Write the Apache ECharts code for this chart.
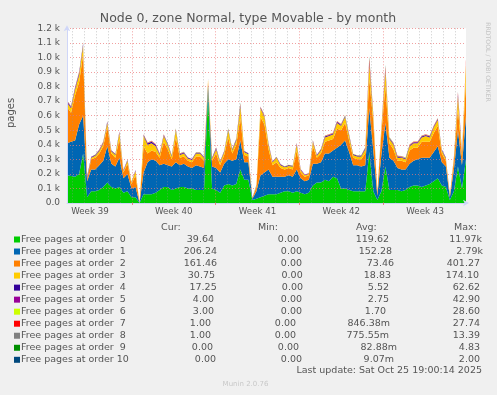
<!DOCTYPE html>
<html><head><meta charset="utf-8">
<script src="https://cdn.jsdelivr.net/npm/echarts@6/dist/echarts.min.js"></script>
<style>html,body{margin:0;padding:0;background:#f0f0f0}#c{width:497px;height:395px}</style>
</head><body><div id="c"></div>
<script>
// ---- data ----
const titleText = 'Node 0, zone Normal, type Movable - by month';
const weekLabels = ['Week 39', 'Week 40', 'Week 41', 'Week 42', 'Week 43'];
const yTickLabels = ['0.0','0.1 k','0.2 k','0.3 k','0.4 k','0.5 k','0.6 k','0.7 k','0.8 k','0.9 k','1.0 k','1.1 k','1.2 k'];
const seriesNames = ['Free pages at order  0','Free pages at order  1','Free pages at order  2','Free pages at order  3','Free pages at order  4','Free pages at order  5','Free pages at order  6','Free pages at order  7','Free pages at order  8','Free pages at order  9','Free pages at order 10'];
const seriesColors = ['#00CC00','#0066B3','#FF8000','#FFCC00','#330099','#990099','#CCFF00','#FF0000','#808080','#008F00','#00487D'];
const curVals = ['39.64','206.24','161.46','30.75','17.25','4.00','3.00','1.00','1.00','0.00','0.00'];
const minVals = ['0.00','0.00','0.00','0.00','0.00','0.00','0.00','0.00','0.00','0.00','0.00'];
const avgVals = ['119.62','152.28','73.46','18.83','5.52','2.75','1.70','846.38m','775.55m','82.88m','9.07m'];
const maxVals = ['11.97k','2.79k','401.27','174.10','62.62','42.90','28.60','27.74','13.39','4.83','2.00'];
const lastUpdate = 'Last update: Sat Oct 25 19:00:14 2025';

const order0 = [190,185,180,200,340,40,80,80,90,110, 140,110,100,110,70,80,40,40,0,60, 60,60,70,90,110,110,90,100,110,110, 100,100,90,90,90,750,100,90,70,120, 130,120,130,230,160,160,20,30,40,50, 60,60,60,70,80,80,70,80,70,60, 70,120,140,140,160,150,180,170,100,100, 90,80,80,80,80,350,80,20,80,250, 90,90,90,80,90,110,120,120,110,120, 130,150,170,120,110,20,80,250,100,300];
const order1 = [220,235,250,340,260,110,150,150,170,180, 250,160,150,200,100,120,60,70,0,150, 220,240,220,170,160,150,160,180,150,160, 150,140,170,160,150,60,150,150,140,150, 170,170,170,200,120,120,10,50,150,160, 170,120,120,110,100,110,110,150,100,90, 90,150,130,140,180,190,180,210,300,330, 260,180,180,170,180,300,280,30,250,300, 220,200,150,150,140,160,170,180,200,190, 180,200,220,160,140,20,150,250,160,300];
const order2 = [250,200,310,290,420,15,70,80,80,100, 130,70,60,130,40,70,30,80,0,180, 60,60,60,50,150,110,50,170,50,50, 40,40,60,70,50,30,40,100,50,60, 150,50,100,150,50,40,5,30,400,330, 140,80,100,60,50,50,50,130,40,30, 30,120,40,60,80,90,80,130,100,120, 80,50,40,50,80,200,200,20,150,250, 100,80,50,60,50,90,90,80,110,110, 110,130,140,60,40,10,60,150,60,250];
const order3 = [30,30,40,50,60,5,10,15,15,20, 30,15,20,40,10,20,10,30,0,70, 60,50,40,20,40,30,20,50,20,20, 15,15,20,20,20,10,15,30,20,20, 50,20,30,80,20,15,0,10,60,50, 30,20,30,20,15,15,20,40,15,10, 10,30,15,20,30,30,30,40,30,40, 30,20,20,20,30,100,40,5,30,100, 30,30,20,20,20,30,30,30,30,40, 30,40,40,20,15,5,20,80,20,100];
const order4 = [8,8,9,10,12,10,5,5,6,6, 6,5,5,6,4,5,3,4,0,6, 8,10,8,5,6,5,5,6,5,5, 5,5,5,5,5,4,5,6,5,5, 6,5,6,8,5,5,1,3,6,6, 5,4,4,4,4,4,4,6,4,3, 3,5,4,5,6,6,6,7,6,7, 6,5,5,5,6,10,8,2,7,10, 6,6,8,5,5,5,6,6,6,6, 6,6,6,5,5,1,5,8,10,10];
const order5 = [4,4,4,5,6,3,2,2,3,3, 3,2,2,3,2,2,2,2,0,3, 4,4,4,3,3,3,2,3,3,3, 2,2,2,2,2,2,2,3,2,2, 3,3,3,4,2,2,0,1,3,3, 3,2,2,2,2,2,2,3,2,2, 2,3,2,3,3,3,3,3,3,3, 3,2,2,2,3,6,4,1,3,6, 3,3,3,3,3,3,3,3,3,3, 3,3,3,2,2,0,2,5,4,5];
const order6 = [2,2,2,3,3,2,1,1,2,2, 2,1,1,2,1,1,1,1,0,2, 2,2,2,2,2,2,1,2,2,2, 1,1,1,1,1,1,1,2,1,1, 2,2,2,3,1,1,0,1,2,2, 2,1,1,1,1,1,1,2,1,1, 1,2,1,2,2,2,2,2,2,2, 2,1,1,1,2,4,3,1,2,4, 2,2,2,2,2,2,2,2,2,2, 2,2,2,1,1,0,1,3,3,3];
const order7 = [1,1,1,2,2,1,0,0,1,1, 1,0,0,1,0,0,0,0,0,1, 1,1,1,1,1,1,0,1,1,1, 0,0,0,0,0,0,0,1,0,0, 1,1,1,6,0,0,0,0,1,1, 1,0,0,0,0,0,0,1,0,0, 0,1,0,1,1,1,1,1,1,1, 1,0,0,0,1,20,2,0,1,15, 1,1,1,1,1,1,1,1,1,1, 1,1,1,0,0,0,0,10,1,20];
const order8 = [1,1,1,1,2,1,0,0,1,1, 1,0,0,1,0,0,0,0,0,1, 1,1,1,1,1,1,0,1,1,1, 0,0,0,0,0,1,0,1,0,0, 1,1,1,5,0,0,0,0,1,1, 1,0,0,0,0,0,0,1,0,0, 0,1,0,1,1,1,1,1,1,1, 1,0,0,0,1,12,1,0,1,10, 1,1,1,1,1,1,1,1,1,1, 1,1,1,0,0,0,0,8,1,12];
const order9 = [0,0,0,0,1,0,0,0,0,0, 0,0,0,0,0,0,0,0,0,0, 0,0,0,0,0,0,0,0,0,0, 0,0,0,0,0,0,0,0,0,0, 0,0,0,2,0,0,0,0,0,0, 0,0,0,0,0,0,0,0,0,0, 0,0,0,0,0,0,0,0,0,0, 0,0,0,0,0,4,0,0,0,3, 0,0,0,0,0,0,0,0,0,0, 0,0,0,0,0,0,0,2,0,4];
const order10 = [0,0,0,0,0,0,0,0,0,0, 0,0,0,0,0,0,0,0,0,0, 0,0,0,0,0,0,0,0,0,0, 0,0,0,0,0,0,0,0,0,0, 0,0,0,0,0,0,0,0,0,0, 0,0,0,0,0,0,0,0,0,0, 0,0,0,0,0,0,0,0,0,0, 0,0,0,0,0,2,0,0,0,0, 0,0,0,0,0,0,0,0,0,0, 0,0,0,0,0,0,0,0,0,0];
const allOrders = [order0,order1,order2,order3,order4,order5,order6,order7,order8,order9,order10];

// ---- layout ----
const FONT = 'DejaVu Sans';
const TXT = '#555555';
const PL = 67, PT = 28.3, PR = 466, PB = 203;
const slots = Array.from({length: 401}, (_, k) => String(k)); // 2-hour slots
const dayIdx = k => k >= 5 && (k - 5) % 12 === 0;
const weekIdx = k => k >= 65 && (k - 65) % 84 === 0;
const labIdx = k => k >= 23 && (k - 23) % 84 === 0;
const dataCats = order0.map((_, i) => String(i));

const series = allOrders.map((arr, i) => ({
  name: seriesNames[i], type: 'line', stack: 'all', xAxisIndex: 2, yAxisIndex: 0,
  data: arr, symbol: 'none', showSymbol: false, lineStyle: {width: 0},
  areaStyle: {color: seriesColors[i], opacity: 1}, color: seriesColors[i],
  z: 2, silent: true, animation: false
}));

const graphic = [];
graphic.push({type: 'text', x: 248, y: 18.5, style: {text: titleText, font: '12.5px "' + FONT + '"', fill: TXT, align: 'center', verticalAlign: 'middle'}});
graphic.push({type: 'text', x: 11.5, y: 113, rotation: Math.PI / 2, style: {text: 'pages', font: '10px "' + FONT + '"', fill: TXT, align: 'center', verticalAlign: 'middle'}});
graphic.push({type: 'text', x: 488, y: 62, rotation: -Math.PI / 2, style: {text: 'RRDTOOL / TOBI OETIKER', font: '6.2px "' + FONT + '"', fill: '#c4c4c4', align: 'center', verticalAlign: 'middle'}});
const headerY = 227.7;
const LF = '9.5px "' + FONT + '"';
[['Cur:', 161], ['Min:', 258], ['Avg:', 356], ['Max:', 454]].forEach(h => {
  graphic.push({type: 'text', x: h[1], y: headerY, style: {text: h[0], font: LF, fill: TXT, align: 'left', verticalAlign: 'middle'}});
});
const curR = [214,217,217,215,216.7,214,214,211,211,213,216];
const minR = [299,302,302,302.7,303,302,302,296,296,299,302];
const avgR = [389,392,394,391,389,389,386,390,389,397,394];
const maxR = [482,483,480,479,480,480,480,480,480,480,480];
seriesNames.forEach((nm, k) => {
  const y = 239.5 + 12.03 * k;
  graphic.push({type: 'rect', shape: {x: 14, y: y - 3, width: 6, height: 6}, style: {fill: seriesColors[k]}});
  graphic.push({type: 'text', x: 21, y: y, style: {text: nm, font: LF, fill: TXT, align: 'left', verticalAlign: 'middle'}});
  [[curVals, curR], [minVals, minR], [avgVals, avgR], [maxVals, maxR]].forEach(c => {
    graphic.push({type: 'text', x: c[1][k], y: y, style: {text: c[0][k], font: LF, fill: TXT, align: 'right', verticalAlign: 'middle'}});
  });
});
graphic.push({type: 'text', x: 482, y: 370.7, style: {text: lastUpdate, font: LF, fill: TXT, align: 'right', verticalAlign: 'middle'}});
graphic.push({type: 'text', x: 245.5, y: 384.3, style: {text: 'Munin 2.0.76', font: '7px "' + FONT + '"', fill: '#c8c8c8', align: 'center', verticalAlign: 'middle'}});

const option = {
  backgroundColor: '#f0f0f0',
  animation: false,
  textStyle: {fontFamily: FONT},
  grid: {left: PL, top: PT, width: PR - PL, height: PB - PT, show: true, backgroundColor: '#ffffff', borderWidth: 0, containLabel: false, outerBoundsMode: 'none'},
  xAxis: [
    { // bottom axis: week lines, labels, arrow
      type: 'category', data: slots, boundaryGap: false, position: 'bottom', z: 3,
      axisLine: {show: true, lineStyle: {color: '#CFD6F8', width: 1}, symbol: ['none', 'arrow'], symbolSize: [5, 6], symbolOffset: [0, 3]},
      axisTick: {show: true, interval: (i) => weekIdx(i), length: 2, lineStyle: {color: 'rgba(230,110,110,0.8)'}},
      axisLabel: {show: true, interval: (i) => labIdx(i), formatter: (v, i) => labIdx(i) ? weekLabels[(i - 23) / 84] : '', margin: 4, fontSize: 8.7, color: TXT, fontFamily: FONT, hideOverlap: false},
      splitLine: {show: true, interval: (i) => weekIdx(i), lineStyle: {color: 'rgba(235,120,120,0.7)', type: [1, 2], width: 1}}
    },
    { // day lines
      type: 'category', data: slots, boundaryGap: false, position: 'top', z: 3,
      axisLine: {show: false}, axisTick: {show: false}, axisLabel: {show: false},
      splitLine: {show: true, interval: (i) => dayIdx(i) && !weekIdx(i), lineStyle: {color: 'rgba(150,150,150,0.5)', type: [1, 2], width: 1}}
    },
    { // data axis
      type: 'category', data: dataCats, boundaryGap: false, show: false
    }
  ],
  yAxis: [{
    type: 'value', min: 0, max: 1200, interval: 100, z: 3,
    axisLine: {show: true, lineStyle: {color: '#CFD6F8', width: 1}, symbol: ['none', 'arrow'], symbolSize: [5, 6], symbolOffset: [0, 3]},
    axisTick: {show: false},
    axisLabel: {formatter: v => yTickLabels[Math.round(v / 100)], fontSize: 9, color: TXT, fontFamily: FONT, margin: 7},
    splitLine: {show: true, lineStyle: {color: 'rgba(235,120,120,0.7)', type: [1, 2], width: 1}}
  }],
  series: series,
  graphic: graphic
};
const chart = echarts.init(document.getElementById('c'));
chart.setOption(option);
</script>
</body></html>
